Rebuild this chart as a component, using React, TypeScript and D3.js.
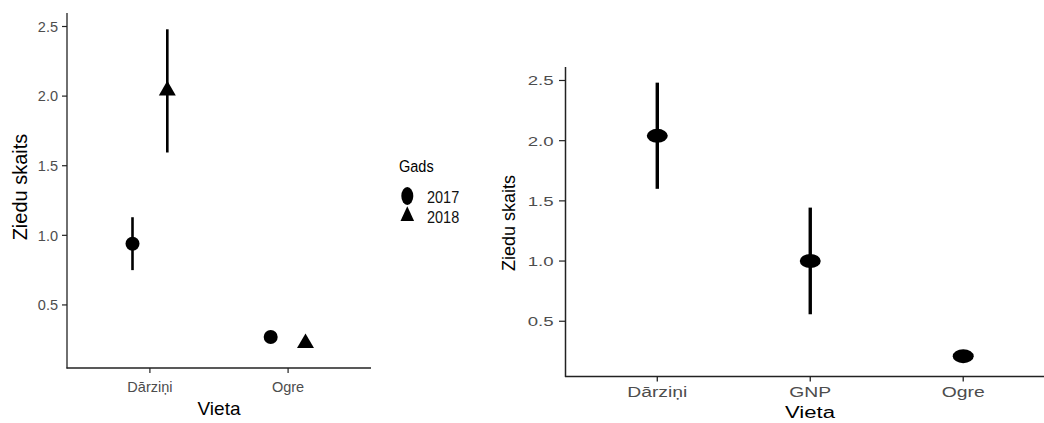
import React from "react";
import * as d3 from "d3";

// ---- Data ----
const leftSites = ["Dārziņi", "Ogre"];
const years = ["2017", "2018"];
const leftMean2017 = [0.94, 0.27];
const leftLow2017 = [0.75, 0.27];
const leftHigh2017 = [1.13, 0.27];
const leftMean2018 = [2.04, 0.225];
const leftLow2018 = [1.595, 0.225];
const leftHigh2018 = [2.48, 0.225];

const rightSites = ["Dārziņi", "GNP", "Ogre"];
const rightMean = [2.04, 1.0, 0.21];
const rightLow = [1.6, 0.558, 0.21];
const rightHigh = [2.482, 1.444, 0.21];

const yTicks = [0.5, 1.0, 1.5, 2.0, 2.5];

const FONT = "'Liberation Sans', Arial, Helvetica, sans-serif";
const TICK_COLOR = "#4d4d4d";

export default function App() {
  // Left panel scales
  const lx = d3.scalePoint<string>().domain(leftSites).range([67, 371]).padding(0.6);
  const ly = d3.scaleLinear().domain([0.047, 2.597]).range([368, 13]);
  const lstep = lx.step();
  const dodge = d3.scalePoint<string>().domain(years).range([-0.126 * lstep, 0.126 * lstep]);

  // Right panel scales
  const rx = d3.scalePoint<string>().domain(rightSites).range([565.5, 1055]).padding(0.6);
  const ry = d3.scaleLinear().domain([0.041, 2.612]).range([376.5, 67]);
  const rsx = 1.38; // horizontal stretch of the right panel image

  const tri = d3.symbol().type(d3.symbolTriangle).size(125)() as string;
  const triLegend = d3.symbol().type(d3.symbolTriangle).size(80)() as string;

  const leftSeries = [
    { year: "2017", mean: leftMean2017, low: leftLow2017, high: leftHigh2017 },
    { year: "2018", mean: leftMean2018, low: leftLow2018, high: leftHigh2018 },
  ];

  return (
    <svg
      width={1044}
      height={423}
      style={{ position: "absolute", left: 0, top: 0, background: "#fff" }}
      fontFamily={FONT}
    >
      {/* ===== Left panel ===== */}
      <g>
        <line x1={67} x2={67} y1={13} y2={368.5} stroke="#222" strokeWidth={1.3} />
        <line x1={66.5} x2={371} y1={368} y2={368} stroke="#222" strokeWidth={1.3} />
        {yTicks.map((t) => (
          <g key={"lyt" + t}>
            <line x1={62} x2={67} y1={ly(t)} y2={ly(t)} stroke="#222" strokeWidth={1.2} />
            <text x={58} y={ly(t)} dy="0.36em" textAnchor="end" fontSize={14.5} fill={TICK_COLOR}>
              {d3.format(".1f")(t)}
            </text>
          </g>
        ))}
        {leftSites.map((s) => (
          <g key={"lxt" + s}>
            <line x1={lx(s)} x2={lx(s)} y1={368} y2={373} stroke="#222" strokeWidth={1.2} />
            <text x={lx(s)} y={392} textAnchor="middle" fontSize={14.5} fill={TICK_COLOR}>
              {s}
            </text>
          </g>
        ))}
        <text x={219} y={415} textAnchor="middle" fontSize={19} fill="#000">
          Vieta
        </text>
        <text
          transform={`translate(27,187) rotate(-90)`}
          textAnchor="middle"
          fontSize={20}
          fill="#000"
        >
          Ziedu skaits
        </text>

        {leftSeries.map((ser) =>
          leftSites.map((s, i) => {
            const cx = (lx(s) as number) + (dodge(ser.year) as number);
            return (
              <g key={ser.year + s}>
                <line
                  x1={cx}
                  x2={cx}
                  y1={ly(ser.low[i])}
                  y2={ly(ser.high[i])}
                  stroke="#000"
                  strokeWidth={2.6}
                />
                {ser.year === "2017" ? (
                  <circle cx={cx} cy={ly(ser.mean[i])} r={7} fill="#000" />
                ) : (
                  <path d={tri} transform={`translate(${cx},${ly(ser.mean[i])})`} fill="#000" />
                )}
              </g>
            );
          })
        )}
      </g>

      {/* ===== Legend ===== */}
      <g>
        <text transform="translate(399,171.5) scale(1,1.2)" fontSize={14.5} fill="#000">
          Gads
        </text>
        <ellipse cx={407.3} cy={196} rx={6} ry={9} fill="#000" />
        <path d={triLegend} transform="translate(407.3,216) scale(1,1.25)" fill="#000" />
        <text transform="translate(427,202.5) scale(1,1.2)" fontSize={14.5} fill="#111">
          {years[0]}
        </text>
        <text transform="translate(427,222.5) scale(1,1.2)" fontSize={14.5} fill="#111">
          {years[1]}
        </text>
      </g>

      {/* ===== Right panel ===== */}
      <g>
        <line x1={565.5} x2={565.5} y1={67} y2={377} stroke="#222" strokeWidth={1.5} />
        <line x1={565} x2={1044} y1={376.5} y2={376.5} stroke="#222" strokeWidth={1.3} />
        {yTicks.map((t) => (
          <g key={"ryt" + t}>
            <line x1={559} x2={565.5} y1={ry(t)} y2={ry(t)} stroke="#222" strokeWidth={1.2} />
            <text
              transform={`translate(553.5,${ry(t)}) scale(${rsx},1)`}
              dy="0.36em"
              textAnchor="end"
              fontSize={13.5}
              fill={TICK_COLOR}
            >
              {d3.format(".1f")(t)}
            </text>
          </g>
        ))}
        {rightSites.map((s) => (
          <g key={"rxt" + s}>
            <line x1={rx(s)} x2={rx(s)} y1={376.5} y2={381.5} stroke="#222" strokeWidth={1.3} />
            <text
              transform={`translate(${rx(s)},397) scale(${rsx},1)`}
              textAnchor="middle"
              fontSize={14}
              fill={TICK_COLOR}
            >
              {s}
            </text>
          </g>
        ))}
        <text
          transform={`translate(810,418) scale(${rsx},1)`}
          textAnchor="middle"
          fontSize={16}
          fill="#000"
        >
          Vieta
        </text>
        <text
          transform={`translate(515,223) rotate(-90)`}
          textAnchor="middle"
          fontSize={18}
          fill="#000"
        >
          Ziedu skaits
        </text>

        {rightSites.map((s, i) => {
          const cx = rx(s) as number;
          return (
            <g key={"rp" + s}>
              <line
                x1={cx}
                x2={cx}
                y1={ry(rightLow[i])}
                y2={ry(rightHigh[i])}
                stroke="#000"
                strokeWidth={3.4}
              />
              <ellipse cx={cx} cy={ry(rightMean[i])} rx={10.5} ry={7} fill="#000" />
            </g>
          );
        })}
      </g>
    </svg>
  );
}
